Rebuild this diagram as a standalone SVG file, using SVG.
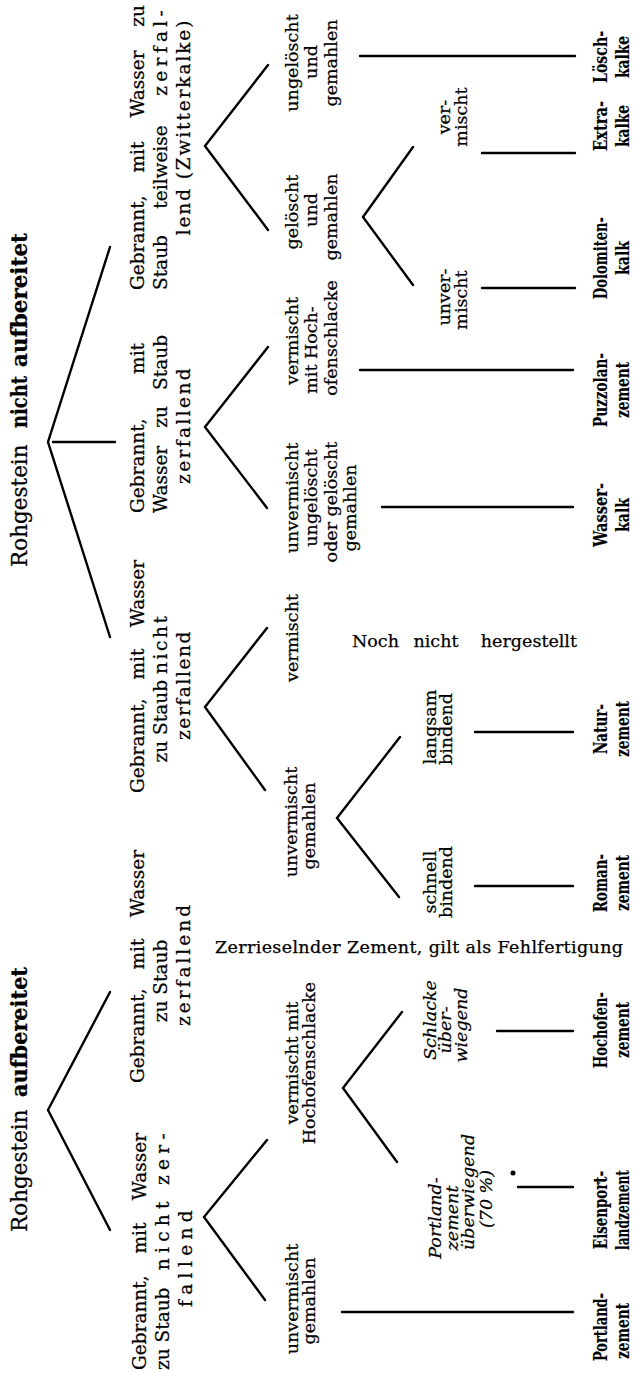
<svg xmlns="http://www.w3.org/2000/svg" width="633" height="1373" viewBox="0 0 633 1373">
<style>
text{font-family:"DejaVu Serif","Liberation Serif",serif;font-size:17.5px;fill:#000;text-anchor:middle;stroke:#000;stroke-width:0.25px}
.s{text-anchor:start}
.e{text-anchor:end}
.m{text-anchor:middle}
.l1{font-size:18.5px}
.ti{font-style:italic}
.tb{font-family:"DejaVu Serif Condensed","DejaVu Serif",serif;font-weight:bold;font-size:19px;stroke-width:0.15px}
.tt{font-size:21.5px}
.b{font-weight:bold}
#connectors path,#connectors line{stroke:#000;stroke-width:2.4;fill:none;stroke-linecap:round}
</style>
<rect width="633" height="1373" fill="#fff"/>
<g id="connectors">
<path d="M110,992 L48,1110 L110,1230"/>
<path d="M110,247 L48,442 L110,637"/>
<line x1="53" y1="442" x2="115" y2="442"/>
<path d="M267,1140 L204,1217 L265,1300"/>
<path d="M267,628 L205,707 L265,790"/>
<path d="M268,347 L205,427 L267,508"/>
<path d="M268,65 L205,146 L268,230"/>
<path d="M402,1012 L343,1088 L397,1162"/>
<path d="M400,737 L337,818 L399,897"/>
<path d="M413,147 L363,217 L413,285"/>
<line x1="342" y1="1312" x2="573" y2="1312"/>
<line x1="518" y1="1187" x2="573" y2="1187"/>
<line x1="497" y1="1031" x2="573" y2="1031"/>
<line x1="475" y1="886" x2="573" y2="886"/>
<line x1="475" y1="732" x2="573" y2="732"/>
<line x1="382" y1="507" x2="573" y2="507"/>
<line x1="360" y1="370" x2="573" y2="370"/>
<line x1="482" y1="288" x2="575" y2="288"/>
<line x1="482" y1="153" x2="575" y2="153"/>
<line x1="360" y1="56" x2="575" y2="56"/>
<circle cx="513" cy="1173" r="2.5" fill="#000"/>
</g>
<g id="root-aufbereitet" transform="rotate(-90)">
<text class="tt s" x="-1232" y="27">Rohgestein</text>
<text class="tt e b" x="-967" y="27" textLength="130" lengthAdjust="spacingAndGlyphs">aufbereitet</text>
</g>
<g id="root-nicht-aufbereitet" transform="rotate(-90)">
<text class="tt s" x="-567" y="27">Rohgestein</text>
<text class="tt m b" x="-402" y="27" textLength="52" lengthAdjust="spacingAndGlyphs">nicht</text>
<text class="tt e b" x="-233" y="27" textLength="134" lengthAdjust="spacingAndGlyphs">aufbereitet</text>
</g>
<g id="a-nicht-zerfallend" transform="rotate(-90)">
<text class="l1" y="146"><tspan class="s" x="-1370">Gebrannt,</tspan><tspan class="m" x="-1238">mit</tspan><tspan class="e" x="-1133">Wasser</tspan></text>
<text class="l1" y="169"><tspan class="s" x="-1370">zu Staub</tspan><tspan class="e" x="-1128" letter-spacing="5.3">nicht zer-</tspan></text>
<text class="l1" x="-1256" y="192" letter-spacing="5.4">fallend</text>
</g>
<g id="b-zerfallend" transform="rotate(-90)">
<text class="l1" y="144"><tspan class="s" x="-1083">Gebrannt,</tspan><tspan class="m" x="-954">mit</tspan><tspan class="e" x="-850">Wasser</tspan></text>
<text class="l1" x="-981" y="167">zu Staub</text>
<text class="l1" x="-964" y="190" letter-spacing="3">zerfallend</text>
</g>
<g id="c-nicht-zerfallend" transform="rotate(-90)">
<text class="l1" y="144"><tspan class="s" x="-793">Gebrannt,</tspan><tspan class="m" x="-664">mit</tspan><tspan class="e" x="-560">Wasser</tspan></text>
<text class="l1" x="-688" y="167">zu Staub <tspan letter-spacing="2.6">nicht</tspan></text>
<text class="l1" x="-685" y="190" letter-spacing="1.6">zerfallend</text>
</g>
<g id="d-zerfallend" transform="rotate(-90)">
<text class="l1" y="144"><tspan class="s" x="-513">Gebrannt,</tspan><tspan class="e" x="-343">mit</tspan></text>
<text class="l1" y="167"><tspan class="s" x="-513">Wasser</tspan><tspan class="m" x="-417">zu</tspan><tspan class="e" x="-335">Staub</tspan></text>
<text class="l1" x="-425" y="190" letter-spacing="2.4">zerfallend</text>
</g>
<g id="e-teilweise" transform="rotate(-90)">
<text class="l1" y="144"><tspan class="s" x="-290">Gebrannt,</tspan><tspan class="m" x="-157">mit</tspan><tspan class="m" x="-84">Wasser</tspan><tspan class="e" x="-5">zu</tspan></text>
<text class="l1" y="167"><tspan class="s" x="-290">Staub</tspan><tspan class="m" x="-167">teilweise</tspan><tspan class="e" x="-6" letter-spacing="4.3">zerfal-</tspan></text>
<text class="l1" x="-127" y="190" letter-spacing="1.9">lend (Zwitterkalke)</text>
</g>
<g id="a1-unvermischt" transform="rotate(-90)">
<text x="-1299" y="298">unvermischt</text>
<text x="-1301" y="315">gemahlen</text>
</g>
<g id="a2-vermischt" transform="rotate(-90)">
<text x="-1063" y="298">vermischt mit</text>
<text x="-1063" y="315">Hochofenschlacke</text>
</g>
<g id="a2a-portland-ueberwiegend" transform="rotate(-90)">
<text class="ti" x="-1218" y="441">Portland-</text>
<text class="ti" x="-1218" y="458">zement</text>
<text class="ti" x="-1192" y="474">überwiegend</text>
<text class="ti" x="-1199" y="492">(70 %)</text>
</g>
<g id="a2b-schlacke-ueberwiegend" transform="rotate(-90)">
<text class="ti" x="-1020" y="436">Schlacke</text>
<text class="ti" x="-1030" y="451">über-</text>
<text class="ti" x="-1025" y="467">wiegend</text>
</g>
<g id="b-note">
<text x="419" y="953" textLength="408">Zerrieselnder Zement, gilt als Fehlfertigung</text>
</g>
<g id="c1-vermischt" transform="rotate(-90)">
<text x="-638" y="298">vermischt</text>
</g>
<g id="c1-note">
<text y="647"><tspan class="s" x="352">Noch</tspan><tspan class="m" x="436">nicht</tspan><tspan class="e" x="577">hergestellt</tspan></text>
</g>
<g id="c2-unvermischt" transform="rotate(-90)">
<text x="-822" y="297">unvermischt</text>
<text x="-826" y="315">gemahlen</text>
</g>
<g id="c2a-langsam" transform="rotate(-90)">
<text x="-727" y="436">langsam</text>
<text x="-729" y="452">bindend</text>
</g>
<g id="c2b-schnell" transform="rotate(-90)">
<text x="-882" y="436">schnell</text>
<text x="-882" y="452">bindend</text>
</g>
<g id="d1-unvermischt" transform="rotate(-90)">
<text x="-498" y="298">unvermischt</text>
<text x="-498" y="317">ungelöscht</text>
<text x="-502" y="337">oder gelöscht</text>
<text x="-508" y="356">gemahlen</text>
</g>
<g id="d2-vermischt" transform="rotate(-90)">
<text x="-341" y="298">vermischt</text>
<text x="-350" y="317">mit Hoch-</text>
<text x="-338" y="337">ofenschlacke</text>
</g>
<g id="e1-geloescht" transform="rotate(-90)">
<text x="-212" y="298">gelöscht</text>
<text x="-210" y="317">und</text>
<text x="-217" y="337">gemahlen</text>
</g>
<g id="e2-ungeloescht" transform="rotate(-90)">
<text x="-63" y="298">ungelöscht</text>
<text x="-62" y="317">und</text>
<text x="-63" y="337">gemahlen</text>
</g>
<g id="e1a-unvermischt" transform="rotate(-90)">
<text x="-297" y="450">unver-</text>
<text x="-300" y="467">mischt</text>
</g>
<g id="e1b-vermischt" transform="rotate(-90)">
<text x="-117" y="450">ver-</text>
<text x="-117" y="467">mischt</text>
</g>
<g id="p-portlandzement" transform="rotate(-90)">
<text class="tb" x="-1327" y="607" textLength="68" lengthAdjust="spacingAndGlyphs">Portland-</text>
<text class="tb" x="-1331" y="629" textLength="56" lengthAdjust="spacingAndGlyphs">zement</text>
</g>
<g id="p-eisenportlandzement" transform="rotate(-90)">
<text class="tb" x="-1210" y="607" textLength="78" lengthAdjust="spacingAndGlyphs">Eisenport-</text>
<text class="tb" x="-1210" y="629" textLength="80" lengthAdjust="spacingAndGlyphs">landzement</text>
</g>
<g id="p-hochofenzement" transform="rotate(-90)">
<text class="tb" x="-1030" y="607" textLength="76" lengthAdjust="spacingAndGlyphs">Hochofen-</text>
<text class="tb" x="-1030" y="629" textLength="56" lengthAdjust="spacingAndGlyphs">zement</text>
</g>
<g id="p-romanzement" transform="rotate(-90)">
<text class="tb" x="-883" y="607" textLength="58" lengthAdjust="spacingAndGlyphs">Roman-</text>
<text class="tb" x="-883" y="629" textLength="56" lengthAdjust="spacingAndGlyphs">zement</text>
</g>
<g id="p-naturzement" transform="rotate(-90)">
<text class="tb" x="-729" y="607" textLength="50" lengthAdjust="spacingAndGlyphs">Natur-</text>
<text class="tb" x="-729" y="629" textLength="56" lengthAdjust="spacingAndGlyphs">zement</text>
</g>
<g id="p-wasserkalk" transform="rotate(-90)">
<text class="tb" x="-515" y="607" textLength="64" lengthAdjust="spacingAndGlyphs">Wasser-</text>
<text class="tb" x="-515" y="629" textLength="34" lengthAdjust="spacingAndGlyphs">kalk</text>
</g>
<g id="p-puzzolanzement" transform="rotate(-90)">
<text class="tb" x="-390" y="607" textLength="74" lengthAdjust="spacingAndGlyphs">Puzzolan-</text>
<text class="tb" x="-390" y="629" textLength="56" lengthAdjust="spacingAndGlyphs">zement</text>
</g>
<g id="p-dolomitenkalk" transform="rotate(-90)">
<text class="tb" x="-258" y="607" textLength="82" lengthAdjust="spacingAndGlyphs">Dolomiten-</text>
<text class="tb" x="-258" y="629" textLength="34" lengthAdjust="spacingAndGlyphs">kalk</text>
</g>
<g id="p-extrakalke" transform="rotate(-90)">
<text class="tb" x="-126" y="607" textLength="50" lengthAdjust="spacingAndGlyphs">Extra-</text>
<text class="tb" x="-126" y="629" textLength="42" lengthAdjust="spacingAndGlyphs">kalke</text>
</g>
<g id="p-loeschkalke" transform="rotate(-90)">
<text class="tb" x="-57" y="607" textLength="52" lengthAdjust="spacingAndGlyphs">Lösch-</text>
<text class="tb" x="-57" y="629" textLength="42" lengthAdjust="spacingAndGlyphs">kalke</text>
</g>
</svg>
